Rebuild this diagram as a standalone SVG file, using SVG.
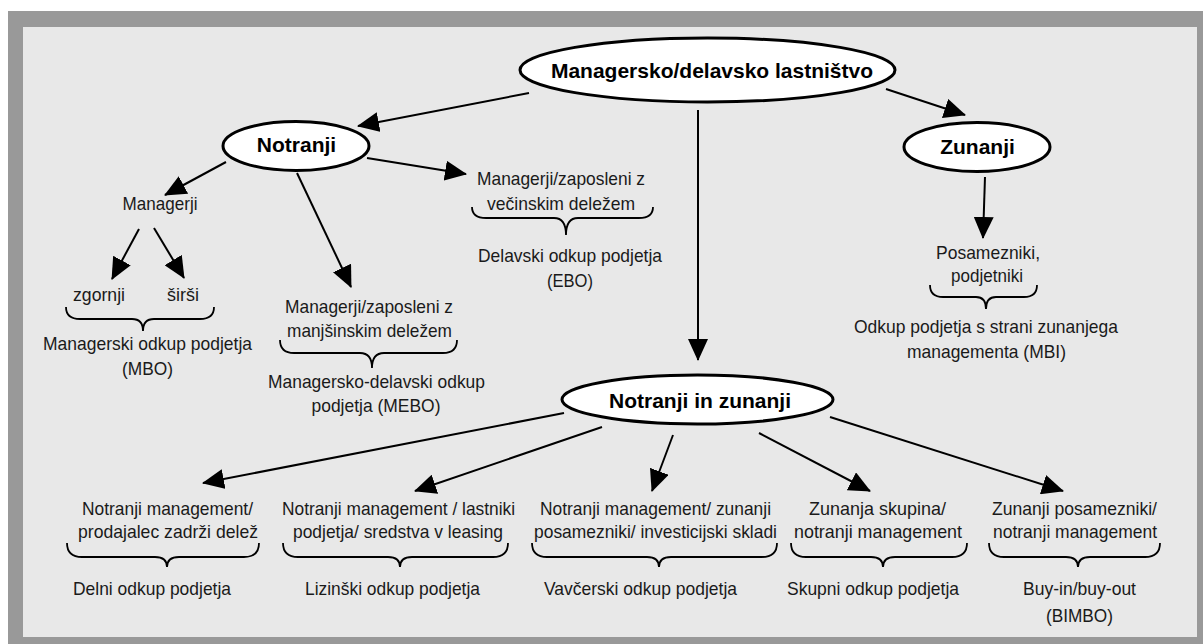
<svg xmlns="http://www.w3.org/2000/svg" width="1203" height="644" viewBox="0 0 1203 644">
<style>
.t{font-family:"Liberation Sans",Arial,sans-serif;font-size:19px;fill:#1a1a1a;text-anchor:middle}
.b{font-family:"Liberation Sans",Arial,sans-serif;font-size:21px;font-weight:bold;fill:#000;text-anchor:middle}
.e{fill:#fff;stroke:#000;stroke-width:3}
.c{stroke:#000;stroke-width:2;fill:none}
.br{stroke:#000;stroke-width:1.8;fill:none}
</style>
<defs>
<marker id="ah" markerUnits="userSpaceOnUse" markerWidth="22" markerHeight="20" refX="21" refY="10" orient="auto">
<path d="M0,0 L22,10 L0,20 Z" fill="#000"/>
</marker>
</defs>
<rect x="8" y="11" width="1195" height="633" fill="#999"/>
<rect x="23" y="27" width="1174" height="610" fill="#e8e8e8"/>

<g id="connectors">
<line class="c" x1="529" y1="93" x2="358" y2="126" marker-end="url(#ah)"/>
<line class="c" x1="886" y1="89" x2="965" y2="115" marker-end="url(#ah)"/>
<line class="c" x1="698" y1="110" x2="698" y2="360" marker-end="url(#ah)"/>
<line class="c" x1="985" y1="177" x2="983" y2="238" marker-end="url(#ah)"/>
<line class="c" x1="226" y1="162" x2="165" y2="195" marker-end="url(#ah)"/>
<line class="c" x1="297" y1="173" x2="351" y2="287" marker-end="url(#ah)"/>
<line class="c" x1="367" y1="158" x2="466" y2="174" marker-end="url(#ah)"/>
<line class="c" x1="139" y1="229" x2="112" y2="279" marker-end="url(#ah)"/>
<line class="c" x1="154" y1="228" x2="184" y2="278" marker-end="url(#ah)"/>
<line class="c" x1="564" y1="413" x2="203" y2="483" marker-end="url(#ah)"/>
<line class="c" x1="602" y1="427" x2="415" y2="491" marker-end="url(#ah)"/>
<line class="c" x1="673" y1="435" x2="652" y2="491" marker-end="url(#ah)"/>
<line class="c" x1="759" y1="433" x2="870" y2="491" marker-end="url(#ah)"/>
<line class="c" x1="830" y1="417" x2="1063" y2="491" marker-end="url(#ah)"/>
</g>

<g id="n-main">
<ellipse class="e" cx="707.5" cy="70" rx="187.5" ry="32"/>
<text class="b" x="712" y="78">Managersko/delavsko lastništvo</text>
</g>
<g id="n-notranji">
<ellipse class="e" cx="296" cy="146" rx="73" ry="24.5"/>
<text class="b" x="296.5" y="152">Notranji</text>
</g>
<g id="n-zunanji">
<ellipse class="e" cx="977" cy="147" rx="73" ry="24.5"/>
<text class="b" x="977.5" y="154">Zunanji</text>
</g>
<g id="n-notranji-zunanji">
<ellipse class="e" cx="697.5" cy="399.5" rx="135.5" ry="24.5"/>
<text class="b" x="700" y="408">Notranji in zunanji</text>
</g>

<g id="n-managerji">
<text class="t" x="160" y="210" textLength="75" lengthAdjust="spacingAndGlyphs">Managerji</text>
</g>
<g id="n-mbo">
<text class="t" x="99" y="301" textLength="52" lengthAdjust="spacingAndGlyphs">zgornji</text>
<text class="t" x="183" y="301" textLength="32" lengthAdjust="spacingAndGlyphs">širši</text>
<path class="br" d="M66,307 Q66,319 80,319 L132,319 Q143,319 143,331 Q143,319 154,319 L200,319 Q214,319 214,307"/>
<text class="t" x="147.5" y="350" textLength="209" lengthAdjust="spacingAndGlyphs">Managerski odkup podjetja</text>
<text class="t" x="147.5" y="375" textLength="51" lengthAdjust="spacingAndGlyphs">(MBO)</text>
</g>
<g id="n-mebo">
<text class="t" x="369" y="313" textLength="168" lengthAdjust="spacingAndGlyphs">Managerji/zaposleni z</text>
<text class="t" x="369.5" y="337" textLength="165" lengthAdjust="spacingAndGlyphs">manjšinskim deležem</text>
<path class="br" d="M280,340 Q280,353 294,353 L360,353 Q372,353 372,368 Q372,353 384,353 L443,353 Q457,353 457,340"/>
<text class="t" x="376.5" y="388" textLength="217" lengthAdjust="spacingAndGlyphs">Managersko-delavski odkup</text>
<text class="t" x="376" y="412" textLength="129" lengthAdjust="spacingAndGlyphs">podjetja (MEBO)</text>
</g>
<g id="n-ebo">
<text class="t" x="561" y="185" textLength="168" lengthAdjust="spacingAndGlyphs">Managerji/zaposleni z</text>
<text class="t" x="561" y="210" textLength="148" lengthAdjust="spacingAndGlyphs">večinskim deležem</text>
<path class="br" d="M472,207 Q472,218 486,218 L554,218 Q566,218 566,235 Q566,218 578,218 L639,218 Q653,218 653,207"/>
<text class="t" x="570" y="262" textLength="184" lengthAdjust="spacingAndGlyphs">Delavski odkup podjetja</text>
<text class="t" x="570" y="287" textLength="46" lengthAdjust="spacingAndGlyphs">(EBO)</text>
</g>
<g id="n-mbi">
<text class="t" x="988" y="259" textLength="104" lengthAdjust="spacingAndGlyphs">Posamezniki,</text>
<text class="t" x="987" y="282" textLength="72" lengthAdjust="spacingAndGlyphs">podjetniki</text>
<path class="br" d="M930,285 Q930,297 943,297 L976,297 Q986,297 986,309 Q986,297 996,297 L1024,297 Q1037,297 1037,285"/>
<text class="t" x="986" y="333" textLength="264" lengthAdjust="spacingAndGlyphs">Odkup podjetja s strani zunanjega</text>
<text class="t" x="986.5" y="358" textLength="159" lengthAdjust="spacingAndGlyphs">managementa (MBI)</text>
</g>

<g id="n-delni">
<text class="t" x="167.5" y="515" textLength="171" lengthAdjust="spacingAndGlyphs">Notranji management/</text>
<text class="t" x="168" y="538" textLength="180" lengthAdjust="spacingAndGlyphs">prodajalec zadrži delež</text>
<path class="br" d="M67,543 Q67,557 82,557 L155,557 Q167,557 167,567 Q167,557 179,557 L244,557 Q259,557 259,543"/>
<text class="t" x="152" y="595" textLength="158" lengthAdjust="spacingAndGlyphs">Delni odkup podjetja</text>
</g>
<g id="n-lizinski">
<text class="t" x="398.5" y="515" textLength="233" lengthAdjust="spacingAndGlyphs">Notranji management / lastniki</text>
<text class="t" x="398" y="538" textLength="210" lengthAdjust="spacingAndGlyphs">podjetja/ sredstva v leasing</text>
<path class="br" d="M283,543 Q283,557 298,557 L388,557 Q400,557 400,567 Q400,557 412,557 L493,557 Q508,557 508,543"/>
<text class="t" x="392.5" y="595" textLength="175" lengthAdjust="spacingAndGlyphs">Lizinški odkup podjetja</text>
</g>
<g id="n-vavcerski">
<text class="t" x="655.5" y="515" textLength="231" lengthAdjust="spacingAndGlyphs">Notranji management/ zunanji</text>
<text class="t" x="655.5" y="538" textLength="243" lengthAdjust="spacingAndGlyphs">posamezniki/ investicijski skladi</text>
<path class="br" d="M532,543 Q532,557 547,557 L647,557 Q659,557 659,567 Q659,557 671,557 L762,557 Q777,557 777,543"/>
<text class="t" x="640.5" y="595" textLength="193" lengthAdjust="spacingAndGlyphs">Vavčerski odkup podjetja</text>
</g>
<g id="n-skupni">
<text class="t" x="877.5" y="515" textLength="137" lengthAdjust="spacingAndGlyphs">Zunanja skupina/</text>
<text class="t" x="878" y="538" textLength="168" lengthAdjust="spacingAndGlyphs">notranji management</text>
<path class="br" d="M791,543 Q791,557 806,557 L871,557 Q883,557 883,567 Q883,557 895,557 L952,557 Q967,557 967,543"/>
<text class="t" x="873" y="595" textLength="172" lengthAdjust="spacingAndGlyphs">Skupni odkup podjetja</text>
</g>
<g id="n-bimbo">
<text class="t" x="1074.5" y="515" textLength="165" lengthAdjust="spacingAndGlyphs">Zunanji posamezniki/</text>
<text class="t" x="1075" y="538" textLength="164" lengthAdjust="spacingAndGlyphs">notranji management</text>
<path class="br" d="M989,543 Q989,557 1004,557 L1066,557 Q1078,557 1078,567 Q1078,557 1090,557 L1145,557 Q1160,557 1160,543"/>
<text class="t" x="1079.5" y="595" textLength="113" lengthAdjust="spacingAndGlyphs">Buy-in/buy-out</text>
<text class="t" x="1079.5" y="622" textLength="67" lengthAdjust="spacingAndGlyphs">(BIMBO)</text>
</g>
</svg>
